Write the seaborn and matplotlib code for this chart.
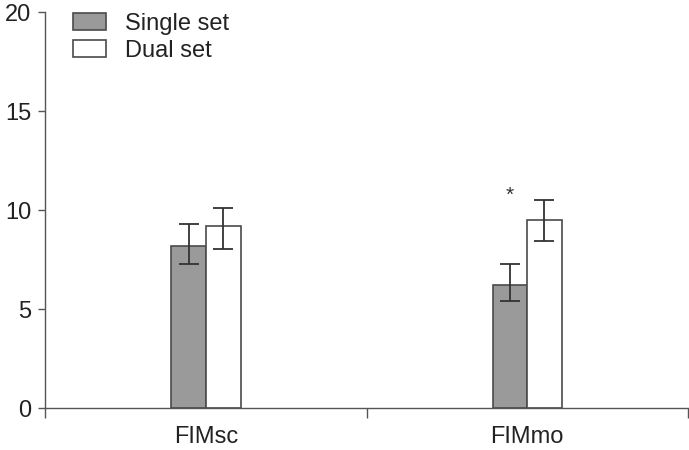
import pandas as pd
import seaborn as sns
import matplotlib.pyplot as plt

# values
categories = ['FIMsc', 'FIMmo']
groups = ['Single set', 'Dual set']
single_mean = [8.2, 6.2]
dual_mean = [9.2, 9.5]
single_err_lo = [0.9, 0.8]
single_err_hi = [1.1, 1.1]
dual_err_lo = [1.15, 1.05]
dual_err_hi = [0.9, 1.0]
star_y = 10.25

df = pd.DataFrame({
    'measure': categories * 2,
    'group': [groups[0]] * 2 + [groups[1]] * 2,
    'value': single_mean + dual_mean,
})

sns.set_style('ticks')
plt.rcParams['font.family'] = ['Liberation Sans', 'DejaVu Sans']

fig = plt.figure(figsize=(6.89, 4.5), dpi=100)
ax = fig.add_axes([0.066, 0.093, 0.932, 0.88])

sns.barplot(data=df, x='measure', y='value', hue='group',
            palette=['#9a9a9a', '#ffffff'], width=0.215,
            edgecolor='#4a4a4a', linewidth=1.2, errorbar=None, ax=ax)

# error bars at the bar centres
errs = [(single_err_lo, single_err_hi), (dual_err_lo, dual_err_hi)]
means = [single_mean, dual_mean]
for cont, m, (lo, hi) in zip(ax.containers, means, errs):
    xs = [p.get_x() + p.get_width() / 2 for p in cont.patches]
    ax.errorbar(xs, m, yerr=[lo, hi], fmt='none', ecolor='#333333',
                elinewidth=1.3, capsize=7, capthick=1.3)

# significance mark above FIMmo single bar
p = ax.containers[0].patches[1]
ax.text(p.get_x() + p.get_width() / 2, star_y, '*', ha='center',
        va='bottom', fontsize=15, color='#333333')

ax.set_xlim(-0.5, 1.5)
ax.set_ylim(0, 20)
ax.set_yticks([0, 5, 10, 15, 20])
ax.set_xticks([-0.5, 0.5, 1.5])
ax.set_xticklabels([])
ax.set_xticks([0, 1], minor=True)
ax.set_xticklabels(categories, minor=True)
ax.tick_params(axis='x', which='minor', length=0, pad=13, labelsize=17, labelcolor='#222222')
ax.tick_params(axis='x', which='major', length=7, width=1, color='#555555')
ax.tick_params(axis='y', length=5, width=1, color='#555555', labelsize=17,
               labelcolor='#222222', pad=5)
ax.set_xlabel('')
ax.set_ylabel('')
for s in ['top', 'right']:
    ax.spines[s].set_visible(False)
for s in ['left', 'bottom']:
    ax.spines[s].set_color('#555555')
    ax.spines[s].set_linewidth(1)

leg = ax.legend(loc='upper left', bbox_to_anchor=(73 / 689, 1 - 13 / 450),
                bbox_transform=fig.transFigure, frameon=False,
                fontsize=17, handlelength=1.4, handleheight=0.72,
                labelspacing=0.2, handletextpad=0.8, borderpad=0,
                borderaxespad=0)
for t in leg.get_texts():
    t.set_color('#222222')

fig.savefig('out.png', dpi=100)
